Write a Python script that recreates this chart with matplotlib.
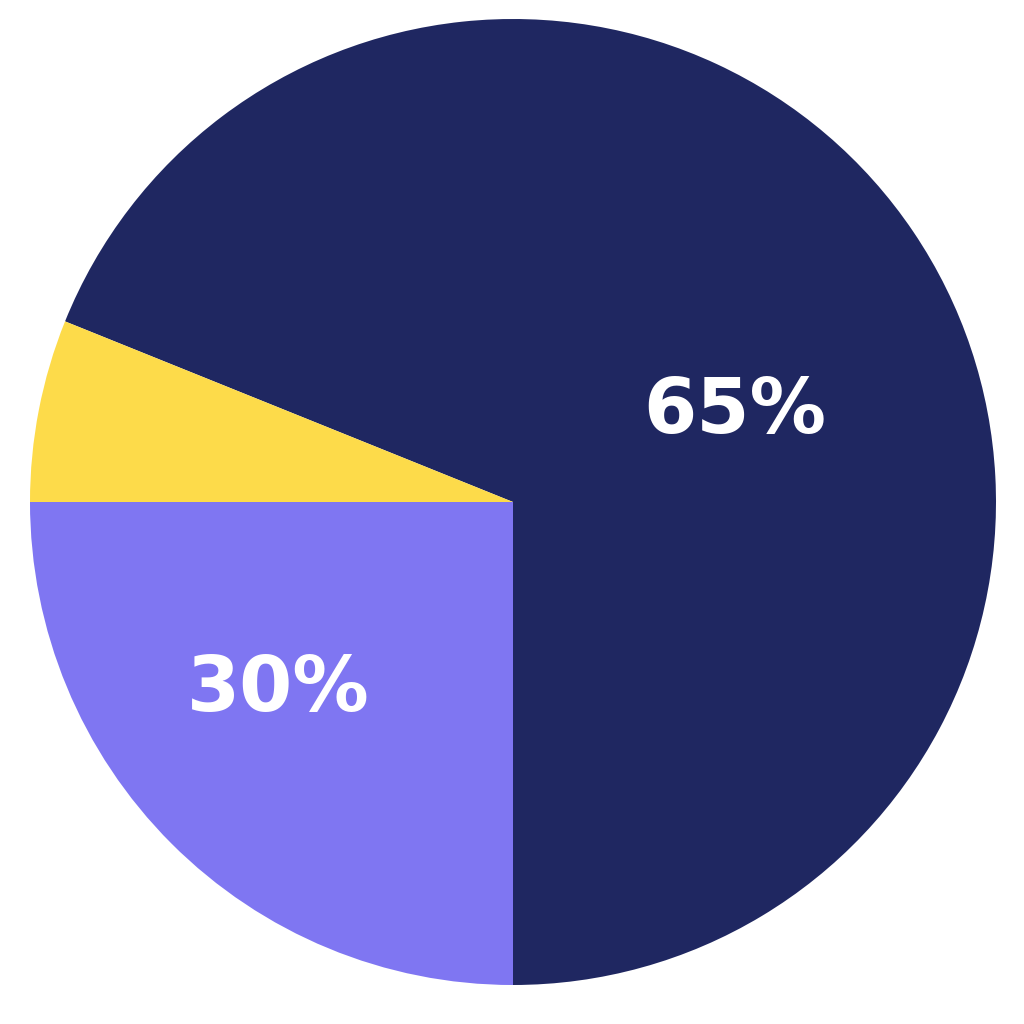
import matplotlib.pyplot as plt

# shares as drawn (counter-clockwise from the bottom)
segments = ['Navy', 'Yellow', 'Purple']
shares = [68.9, 6.1, 25.0]
colors = ['#1F2761', '#FDDB4A', '#7F76F2']
label_texts = ['65%', '30%']
label_pos = [(0.460, 0.186), (-0.486, -0.389)]

fig = plt.figure(figsize=(10.24, 10.24), dpi=100)
ax = fig.add_axes([0, 0, 1, 1])

ax.pie(shares, colors=colors, startangle=-90, counterclock=True,
       radius=1, center=(0, 0), wedgeprops={'linewidth': 0})

for txt, (x, y) in zip(label_texts, label_pos):
    ax.text(x, y, txt, color='white', fontsize=55, fontweight='bold',
            family=['DejaVu Sans'], ha='center', va='center')

ax.set_xlim(-513 / 483, 511 / 483)
ax.set_ylim(-522 / 483, 502 / 483)
ax.set_aspect('auto')
ax.axis('off')

plt.savefig('out.png', dpi=100, facecolor='white')
